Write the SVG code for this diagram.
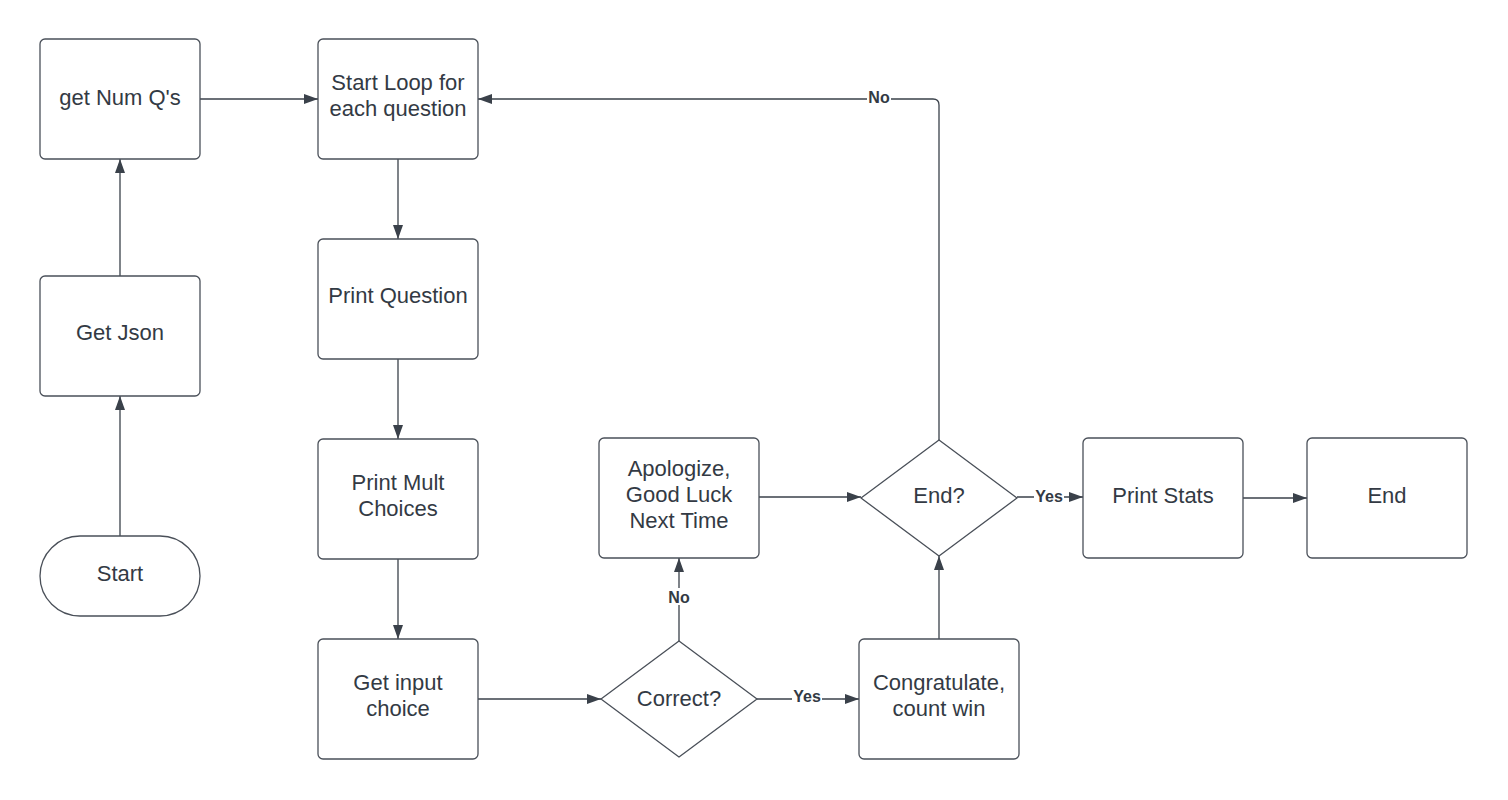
<svg xmlns="http://www.w3.org/2000/svg" width="1508" height="800" viewBox="0 0 1508 800">
<style>
.n{fill:#ffffff;stroke:#4a5059;stroke-width:1.3}
.t{font-family:"Liberation Sans",Arial,sans-serif;font-size:22px;fill:#333a44;text-anchor:middle}
.c{fill:none;stroke:#3a414a;stroke-width:1.3}
.l{font-family:"Liberation Sans",Arial,sans-serif;font-size:16px;font-weight:bold;fill:#333a44;text-anchor:middle}
.lb{fill:#ffffff}
</style>
<defs>
<marker id="a" viewBox="0 0 14 10" refX="14" refY="5" markerWidth="14" markerHeight="10" markerUnits="userSpaceOnUse" orient="auto">
<path d="M0,0 L14,5 L0,10 Z" fill="#3a414a"/>
</marker>
</defs>
<rect width="1508" height="800" fill="#ffffff"/>
<g id="connectors">
<path class="c" d="M120,536 V396" marker-end="url(#a)"/>
<path class="c" d="M120,276 V159" marker-end="url(#a)"/>
<path class="c" d="M200,99 H318" marker-end="url(#a)"/>
<path class="c" d="M398,159 V239" marker-end="url(#a)"/>
<path class="c" d="M398,359 V439" marker-end="url(#a)"/>
<path class="c" d="M398,559 V639" marker-end="url(#a)"/>
<path class="c" d="M478,699 H601" marker-end="url(#a)"/>
<path class="c" d="M757,699 H859" marker-end="url(#a)"/>
<path class="c" d="M679,641 V558" marker-end="url(#a)"/>
<path class="c" d="M759,497 H861" marker-end="url(#a)"/>
<path class="c" d="M939,639 V556" marker-end="url(#a)"/>
<path class="c" d="M939,440 V105 Q939,99 933,99 H478" marker-end="url(#a)"/>
<path class="c" d="M1017,497 H1083" marker-end="url(#a)"/>
<path class="c" d="M1243,498 H1307" marker-end="url(#a)"/>
<rect class="lb" x="792" y="688" width="30" height="17"/>
<text class="l" x="807" y="702">Yes</text>
<rect class="lb" x="667" y="588" width="24" height="17"/>
<text class="l" x="679" y="603">No</text>
<rect class="lb" x="867" y="89" width="24" height="17"/>
<text class="l" x="879" y="103">No</text>
<rect class="lb" x="1034" y="488" width="30" height="17"/>
<text class="l" x="1049" y="502">Yes</text>
</g>
<g id="getnum">
<rect class="n" x="40" y="39" width="160" height="120" rx="5"/>
<text class="t" x="120" y="105">get Num Q's</text>
</g>
<g id="startloop">
<rect class="n" x="318" y="39" width="160" height="120" rx="5"/>
<text class="t" x="398" y="90">Start Loop for</text>
<text class="t" x="398" y="116">each question</text>
</g>
<g id="getjson">
<rect class="n" x="40" y="276" width="160" height="120" rx="5"/>
<text class="t" x="120" y="340">Get Json</text>
</g>
<g id="start">
<rect class="n" x="40" y="536" width="160" height="80" rx="40"/>
<text class="t" x="120" y="581">Start</text>
</g>
<g id="printq">
<rect class="n" x="318" y="239" width="160" height="120" rx="5"/>
<text class="t" x="398" y="303">Print Question</text>
</g>
<g id="printmult">
<rect class="n" x="318" y="439" width="160" height="120" rx="5"/>
<text class="t" x="398" y="490">Print Mult</text>
<text class="t" x="398" y="516">Choices</text>
</g>
<g id="getinput">
<rect class="n" x="318" y="639" width="160" height="120" rx="5"/>
<text class="t" x="398" y="690">Get input</text>
<text class="t" x="398" y="716">choice</text>
</g>
<g id="correct">
<path class="n" d="M679,641 L757,699 L679,757 L601,699 Z" stroke-linejoin="round"/>
<text class="t" x="679" y="706">Correct?</text>
</g>
<g id="apologize">
<rect class="n" x="599" y="438" width="160" height="120" rx="5"/>
<text class="t" x="679" y="476">Apologize,</text>
<text class="t" x="679" y="502">Good Luck</text>
<text class="t" x="679" y="528">Next Time</text>
</g>
<g id="congrats">
<rect class="n" x="859" y="639" width="160" height="120" rx="5"/>
<text class="t" x="939" y="690">Congratulate,</text>
<text class="t" x="939" y="716">count win</text>
</g>
<g id="enddecision">
<path class="n" d="M939,440 L1017,498 L939,556 L861,498 Z" stroke-linejoin="round"/>
<text class="t" x="939" y="503">End?</text>
</g>
<g id="printstats">
<rect class="n" x="1083" y="438" width="160" height="120" rx="5"/>
<text class="t" x="1163" y="503">Print Stats</text>
</g>
<g id="end">
<rect class="n" x="1307" y="438" width="160" height="120" rx="5"/>
<text class="t" x="1387" y="503">End</text>
</g>
</svg>
